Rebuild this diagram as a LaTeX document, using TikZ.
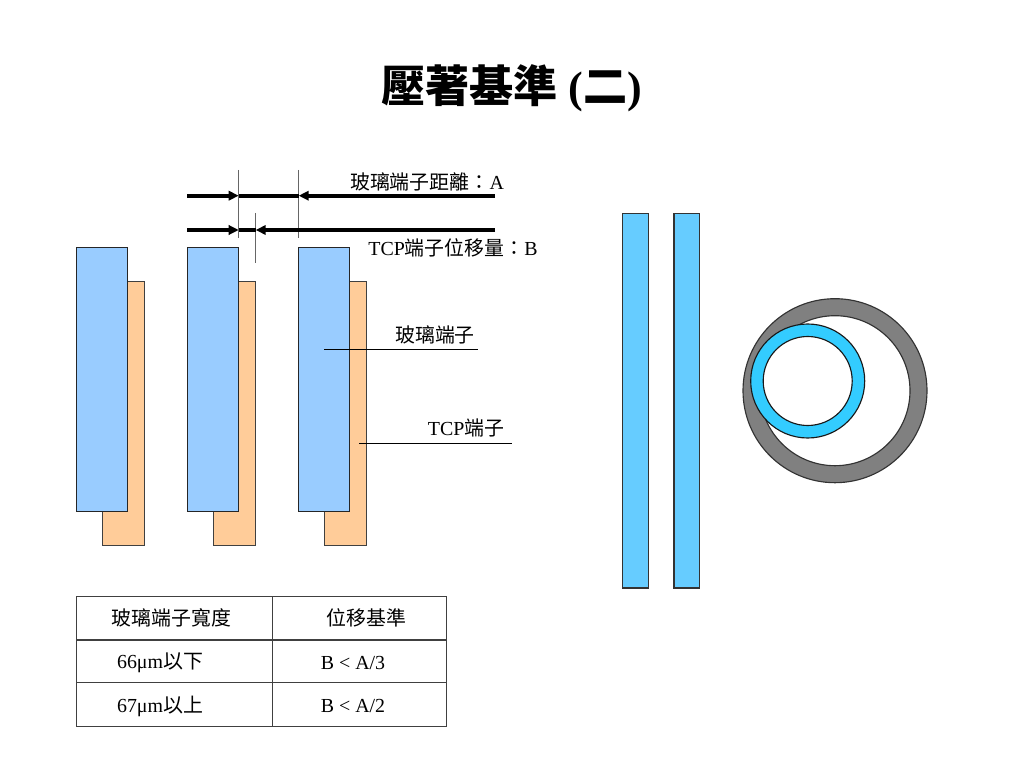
\documentclass[tikz,border=0pt]{standalone}
\usepackage{fontspec}
\setmainfont{Liberation Serif}
\newfontfamily\cjk{Noto Sans CJK TC}
\usetikzlibrary{arrows.meta}
\definecolor{glassblue}{HTML}{99CCFF}
\definecolor{tcporange}{HTML}{FFCC99}
\definecolor{barblue}{HTML}{66CCFF}
\definecolor{ringblue}{HTML}{33CCFF}
\definecolor{ringgray}{HTML}{808080}

\begin{document}
\begin{tikzpicture}[x=0.703125pt,y=-0.703125pt,
		glass/.style={fill=glassblue,draw=black!85,line width=0.8pt},
		tcp/.style={fill=tcporange,draw=black!75,line width=0.8pt},
		guide/.style={draw=black!60,line width=1pt},
		dimline/.style={line width=2.6pt},
		dimarrow/.style={line width=2.6pt,-{Triangle[length=7pt,width=6.5pt]}},
		leader/.style={draw=black,line width=0.7pt},
		grid/.style={draw=black!75,line width=0.8pt},
		txt/.style={font=\fontsize{14pt}{16pt}\selectfont,inner sep=0pt}]
		\useasboundingbox (0,0) rectangle (1024,768);
		
		\newcommand{\padpair}[2]{ % #1: left x of glass pad, #2: name
			\draw[tcp] (#1+25.5,281.7) rectangle (#1+68,545.7);
			\draw[glass] (#1,247.3) rectangle (#1+51,511.7);
			\coordinate (#2) at (#1,247.3);
		}
		
		\node[inner sep=0pt,font=\fontsize{31pt}{34pt}\selectfont\bfseries] (title) at (512,88) {{\cjk 壓著基準} ({\cjk 二})};
		
		%terminal pads
		\padpair{76.7}{padone}
		\padpair{187.7}{padtwo}
		\padpair{298.7}{padthree}
		
		%vertical guide lines
		\coordinate (vonetop) at (238.7,170);
		\coordinate (vonebot) at (238.7,238);
		\coordinate (vtwotop) at (298.7,170);
		\coordinate (vtwobot) at (298.7,238);
		\coordinate (vthreetop) at (255.7,213);
		\coordinate (vthreebot) at (255.7,263);
		\draw[guide] (vonetop) -- (vonebot);
		\draw[guide] (vtwotop) -- (vtwobot);
		\draw[guide] (vthreetop) -- (vthreebot);
		
		%dimension arrows
		\coordinate (aonel) at (187.3,195.7);
		\coordinate (aonep) at (238.7,195.7);
		\coordinate (aoneq) at (298.7,195.7);
		\coordinate (aoner) at (495,195.7);
		\draw[dimline] (aonep) -- (aoneq);
		\draw[dimarrow] (aonel) -- (aonep);
		\draw[dimarrow] (aoner) -- (aoneq);
		
		\coordinate (atwol) at (187.3,230);
		\coordinate (atwop) at (238.7,230);
		\coordinate (atwoq) at (255.7,230);
		\coordinate (atwor) at (495,230);
		\draw[dimline] (atwop) -- (atwoq);
		\draw[dimarrow] (atwol) -- (atwop);
		\draw[dimarrow] (atwor) -- (atwoq);
		
		\node[txt] (labA) at (427,181.7) {{\cjk 玻璃端子距離：}A};
		\node[txt] (labB) at (453,248) {TCP{\cjk 端子位移量：}B};
		
		%leader lines
		\coordinate (glassl) at (324,349.3);
		\coordinate (glassr) at (477.7,349.3);
		\draw[leader] (glassl) -- (glassr);
		\node[txt] (labglass) at (435,334.5) {\cjk 玻璃端子};
		\coordinate (tcpl) at (359,443.3);
		\coordinate (tcpr) at (511.7,443.3);
		\draw[leader] (tcpl) -- (tcpr);
		\node[txt] (labtcp) at (466,428) {TCP{\cjk 端子}};
		
		%long bars
		\draw[fill=barblue,draw=black!80,line width=0.8pt] (622.7,213.3) rectangle (648.7,588);
		\draw[fill=barblue,draw=black!80,line width=0.8pt] (674,213.3) rectangle (699.7,588);
		
		%rings
		\coordinate (grayc) at (835,390.7);
		\coordinate (bluec) at (807.7,381);
		\draw[fill=ringgray,even odd rule,draw=black!80,line width=0.8pt] (grayc) circle[radius=92] (grayc) circle[radius=75];
		\draw[fill=ringblue,even odd rule,draw=black!90,line width=0.8pt] (bluec) circle[radius=57] (bluec) circle[radius=44.5];
		
		%table
		\draw[grid] (76.7,596.7) rectangle (446.7,726.7);
		\draw[grid] (76.7,640) -- (446.7,640);
		\draw[grid] (76.7,682.3) -- (446.7,682.3);
		\draw[grid] (272.7,596.7) -- (272.7,726.7);
		\node[txt] (headwidth) at (171.7,617.5) {\cjk 玻璃端子寬度};
		\node[txt] (headshift) at (366.7,617.5) {\cjk 位移基準};
		\node[txt] (rowonel) at (160,663) {66μm{\cjk 以下}};
		\node[txt] (rowoner) at (353,663) {B < A/3};
		\node[txt] (rowtwol) at (160,706.5) {67μm{\cjk 以上}};
		\node[txt] (rowtwor) at (353,706.5) {B < A/2};
		
	\end{tikzpicture}
\end{document}
